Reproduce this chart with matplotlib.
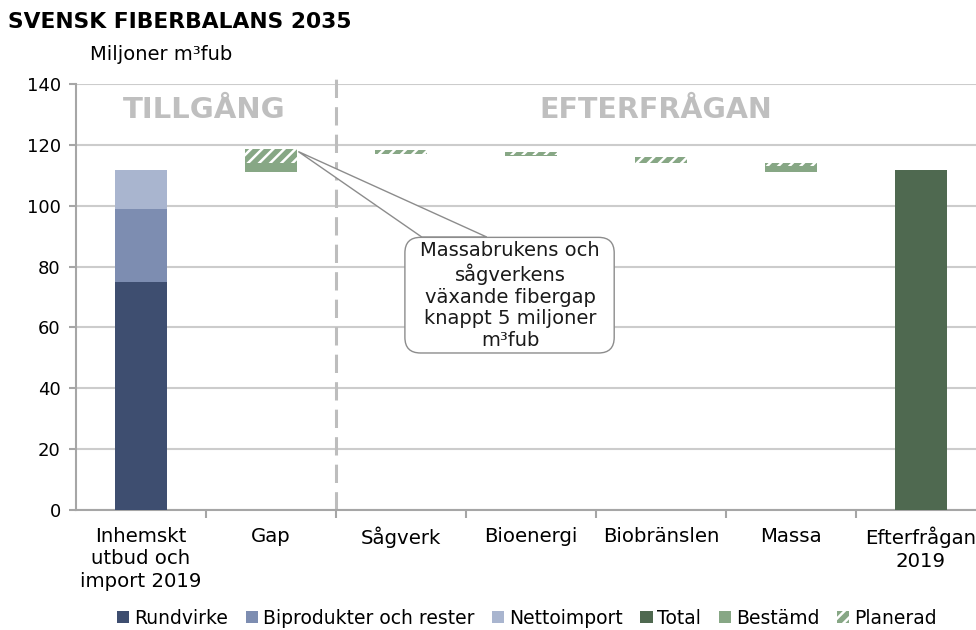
import matplotlib
matplotlib.use("Agg")
import matplotlib.pyplot as plt
from matplotlib.patches import Patch, FancyBboxPatch, Polygon
import numpy as np

# ---------------- data ----------------
categories = ["Inhemskt\nutbud och\nimport 2019", "Gap", "Sågverk", "Bioenergi",
              "Biobränslen", "Massa", "Efterfrågan\n2019"]

# supply stack (category 0)
rundvirke = 75.0
biprodukter = 24.0
nettoimport = 12.7

# demand total 2019 (category 6)
total_2019 = 111.7

# waterfall pieces for categories 1..5 (Gap, Sågverk, Bioenergi, Biobränslen, Massa)
wf_index = [1, 2, 3, 4, 5]
wf_bottom = [111.2, 117.0, 116.2, 114.1, 111.1]
bestamd = [2.9, 0.0, 0.5, 0.0, 1.9]
planerad = [4.4, 1.2, 0.8, 1.8, 1.2]

yticks = [0, 20, 40, 60, 80, 100, 120, 140]

# ---------------- style ----------------
c_rund = "#3e4e70"
c_bipr = "#7d8db1"
c_netto = "#a9b5cf"
c_total = "#4f6950"
c_best = "#87a785"
grid_c = "#cccccc"
axis_c = "#a6a6a6"

plt.rcParams["font.family"] = ["DejaVu Sans"]
plt.rcParams["hatch.linewidth"] = 1.8
plt.rcParams["hatch.color"] = "white"

fig = plt.figure(figsize=(9.76, 6.3), dpi=100)
ax = fig.add_axes([76 / 976, 120 / 630, 910 / 976, 426 / 630])
ax.set_xlim(-0.5, 6.5)
ax.set_ylim(0, 140)

bw = 0.4
x = np.arange(len(categories))

# supply stack
ax.bar(0, rundvirke, width=bw, color=c_rund, zorder=3)
ax.bar(0, biprodukter, bottom=rundvirke, width=bw, color=c_bipr, zorder=3)
ax.bar(0, nettoimport, bottom=rundvirke + biprodukter, width=bw, color=c_netto, zorder=3)

# waterfall
wf_bottom_a = np.array(wf_bottom)
best_a = np.array(bestamd)
plan_a = np.array(planerad)
ax.bar(wf_index, best_a, bottom=wf_bottom_a, width=bw, color=c_best, lw=0, zorder=3)
ax.bar(wf_index, plan_a, bottom=wf_bottom_a + best_a, width=bw, color=c_best,
       edgecolor="white", hatch="///", lw=0, zorder=3)

# demand 2019
ax.bar(6, total_2019, width=bw, color=c_total, zorder=3)

# grid / spines
ax.set_yticks(yticks)
ax.yaxis.grid(True, color=grid_c, lw=1.5, zorder=0)
ax.set_axisbelow(True)
for s in ["top", "right"]:
    ax.spines[s].set_visible(False)
ax.spines["left"].set_color(axis_c)
ax.spines["bottom"].set_color(axis_c)
ax.spines["left"].set_linewidth(1.5)
ax.spines["bottom"].set_linewidth(1.5)

ax.set_xticks(x)
ax.set_xticklabels(categories, fontsize=14.2, linespacing=1.25)
ax.tick_params(axis="x", which="major", length=0, pad=12)
ax.set_xticks(np.arange(0.5, 6.5, 1.0), minor=True)
ax.tick_params(axis="x", which="minor", length=6, width=1.5, color=axis_c)
ax.tick_params(axis="y", length=5, width=1.5, color=axis_c, labelsize=13, pad=6)

# dashed separator
ax.plot([1.5, 1.5], [0, 144.5], ls=(0, (6, 3)), color="#bdbdbd", lw=2.2,
        clip_on=False, zorder=2)

# section headers
ax.text(0.485, 131.4, "TILLGÅNG", ha="center", va="center", fontsize=21,
        fontweight="bold", color="#bfbfbf")
ax.text(3.96, 131.4, "EFTERFRÅGAN", ha="center", va="center", fontsize=20.5,
        fontweight="bold", color="#bfbfbf")

# callout
tip = (1.21, 117.8)
base_l = (2.16, 89.7)
base_r = (2.66, 89.7)
ax.add_patch(Polygon([tip, base_l, base_r], closed=True, facecolor="white",
                     edgecolor="#8c8c8c", lw=1.0, zorder=5, clip_on=False))
box = FancyBboxPatch((2.03, 51.6), 1.61, 38.0,
                     boxstyle="round,pad=0,rounding_size=0.12",
                     mutation_aspect=42.7,
                     facecolor="white", edgecolor="#8c8c8c", lw=1.0, zorder=6)
ax.add_patch(box)
ax.text(2.84, 70.4, "Massabrukens och\nsågverkens\nväxande fibergap\nknappt 5 miljoner\nm³fub",
        ha="center", va="center", fontsize=14, linespacing=1.18, zorder=7,
        color="#1a1a1a")

# titles
fig.text(8 / 976, 1 - 22 / 630, "SVENSK FIBERBALANS 2035", fontsize=15.7,
         fontweight="bold", va="center", ha="left")
fig.text(90 / 976, 1 - 55 / 630, "Miljoner m³fub", fontsize=14, va="center", ha="left")

# legend
handles = [
    Patch(facecolor=c_rund, label="Rundvirke"),
    Patch(facecolor=c_bipr, label="Biprodukter och rester"),
    Patch(facecolor=c_netto, label="Nettoimport"),
    Patch(facecolor=c_total, label="Total"),
    Patch(facecolor=c_best, label="Bestämd"),
    Patch(facecolor=c_best, edgecolor="white", hatch="///", lw=0, label="Planerad"),
]
fig.legend(handles=handles, loc="center", bbox_to_anchor=(527 / 976, 12 / 630),
           ncol=6, frameon=False, fontsize=13.5, handlelength=0.65, handleheight=0.65,
           handletextpad=0.25, columnspacing=0.95)

fig.savefig("out.png", dpi=100)
